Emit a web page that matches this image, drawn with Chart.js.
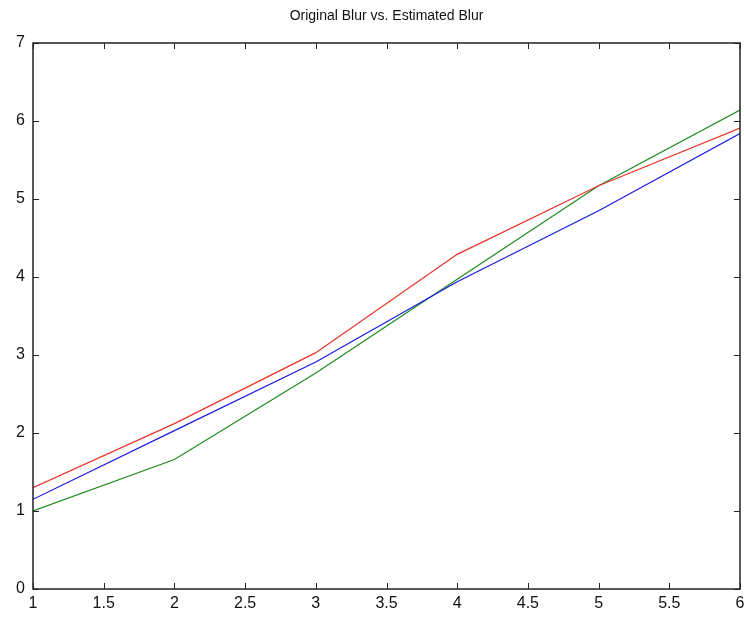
<!DOCTYPE html>
<html>
<head>
<meta charset="utf-8">
<script src="https://cdn.jsdelivr.net/npm/chart.js@4"></script>
<style>
  html, body { margin: 0; padding: 0; background: #fff; }
  canvas { display: block; }
</style>
</head>
<body>
<canvas id="grafico" width="744" height="617"></canvas>
<script>
const xValues = [1, 2, 3, 4, 5, 6];
const redValues = [1.3, 2.12, 3.03, 4.29, 5.17, 5.91];
const blueValues = [1.15, 2.03, 2.91, 3.94, 4.85, 5.84];
const greenValues = [1.0, 1.66, 2.77, 3.97, 5.17, 6.14];
const titleText = "Original Blur vs. Estimated Blur";

function toPoints(vals) {
  return xValues.map((x, i) => ({ x: x, y: vals[i] }));
}

// caixa, ticks para dentro e titulo centrado na area do grafico
const boxPlugin = {
  id: "boxPlugin",
  afterDraw(chart) {
    const ctx = chart.ctx;
    const a = chart.chartArea;
    const xs = chart.scales.x;
    const ys = chart.scales.y;
    ctx.save();
    ctx.strokeStyle = "#222";
    ctx.lineWidth = 1;
    ctx.beginPath();
    xs.ticks.forEach((t) => {
      const px = Math.round(xs.getPixelForValue(t.value)) + 0.5;
      ctx.moveTo(px, a.bottom);
      ctx.lineTo(px, a.bottom - 6);
      ctx.moveTo(px, a.top);
      ctx.lineTo(px, a.top + 6);
    });
    ys.ticks.forEach((t) => {
      const py = Math.round(ys.getPixelForValue(t.value)) + 0.5;
      ctx.moveTo(a.left, py);
      ctx.lineTo(a.left + 6, py);
      ctx.moveTo(a.right, py);
      ctx.lineTo(a.right - 6, py);
    });
    ctx.stroke();
    ctx.lineWidth = 1.5;
    ctx.strokeRect(a.left, a.top, a.right - a.left, a.bottom - a.top);

    ctx.fillStyle = "#111";
    ctx.font = "14px 'Liberation Sans', Arial";
    ctx.textAlign = "center";
    ctx.textBaseline = "middle";
    ctx.fillText(titleText, (a.left + a.right) / 2, 16);
    ctx.restore();
  },
};

const lineStyle = { borderWidth: 1.2, pointRadius: 0, fill: false, tension: 0 };

new Chart(document.getElementById("grafico").getContext("2d"), {
  type: "line",
  data: {
    datasets: [
      { label: "red", data: toPoints(redValues), borderColor: "#e8332a", ...lineStyle },
      { label: "blue", data: toPoints(blueValues), borderColor: "#1a1ae0", ...lineStyle },
      { label: "green", data: toPoints(greenValues), borderColor: "#1e8a1e", ...lineStyle },
    ],
  },
  options: {
    responsive: false,
    animation: false,
    layout: { padding: { left: 0, right: 4, top: 43, bottom: 0 } },
    plugins: {
      legend: { display: false },
      tooltip: { enabled: false },
      title: { display: false },
    },
    scales: {
      x: {
        type: "linear",
        min: 1,
        max: 6,
        grid: { display: false, drawTicks: false },
        border: { display: false },
        ticks: {
          stepSize: 0.5,
          autoSkip: false,
          maxRotation: 0,
          padding: 5,
          color: "#111",
          font: { family: "Liberation Sans, Arial", size: 16 },
          callback: (v) => String(Number(v)),
        },
        afterFit(scale) {
          scale.height = 28;
          scale.paddingLeft = 0;
          scale.paddingRight = 0;
        },
      },
      y: {
        min: 0,
        max: 7,
        grid: { display: false, drawTicks: false },
        border: { display: false },
        ticks: {
          stepSize: 1,
          padding: 8,
          color: "#111",
          font: { family: "Liberation Sans, Arial", size: 16 },
        },
        afterFit(scale) {
          scale.width = 33;
          scale.paddingTop = 0;
          scale.paddingBottom = 0;
        },
      },
    },
  },
  plugins: [boxPlugin],
});
</script>
</body>
</html>
